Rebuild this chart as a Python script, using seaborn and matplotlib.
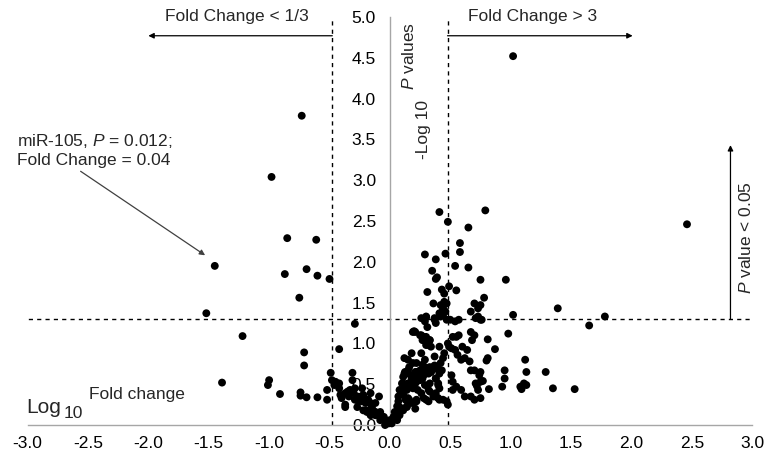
import numpy as np
import pandas as pd
import matplotlib
matplotlib.use("Agg")
import matplotlib.pyplot as plt
import seaborn as sns

# log10 fold change / -log10 P
log10_fold_change = [
    -0.73, -0.98, -0.85, -0.61, -1.45, -0.87, -0.69, -0.60, -0.50, -0.75, -1.52, -1.22,
    -0.71, -0.71, -1.39, -1.00, -1.01, -0.91, -0.74, -0.74, -0.69, -0.60, -0.52,
    -0.29, -0.42, -0.49, -0.31,
    -0.48, -0.45, -0.42, -0.46, -0.52, -0.42, -0.41, -0.37, -0.35, -0.33, -0.30, -0.34,
    -0.37, -0.27, -0.26, -0.23, -0.22, -0.20, -0.19, -0.16, -0.22, -0.19, -0.14, -0.11,
    -0.08, -0.12,
    -0.31, -0.29, -0.23, -0.24, -0.16, -0.18, -0.40, -0.37, -0.29, -0.27, -0.20, -0.15,
    -0.12, -0.09, -0.07, -0.04, -0.01, -0.09, -0.12, -0.16,
    -0.05, -0.08, -0.08, -0.04, -0.03, 0.00, 0.015,
    0.04, 0.08, 0.03, 0.06, 0.06, 0.10, 0.14, 0.21, 0.07, 0.07, 0.11, 0.15, 0.18, 0.22,
    0.08, 0.125, 0.10, 0.15, 0.11, 0.125, 0.15, 0.21, 0.25, 0.29, 0.33, 0.37, 0.40, 0.41,
    0.34, 0.23, 0.28, 0.32, 0.18, 0.21, 0.25, 0.19, 0.23, 0.29, 0.33, 0.26, 0.38, 0.40,
    0.41, 0.33, 0.38, 0.28, 0.32, 0.36, 0.40, 0.44, 0.47, 0.43,
    0.11, 0.14, 0.13, 0.08, 0.07, 0.04,
    0.12, 0.15, 0.12, 0.18, 0.22, 0.26, 0.30, 0.34, 0.27, 0.22, 0.19,
    0.38, 0.40, 0.51, 0.52, 0.55, 0.59, 0.62, 0.52, 0.32, 0.30, 0.22, 0.16, 0.14, 0.11,
    0.38, 0.41, 0.48,
    0.70, 0.74, 0.75, 0.71, 0.67, 0.70, 0.73, 0.75,
    0.19, 0.26, 0.30, 0.33, 0.32, 0.41, 0.49, 0.45, 0.44, 0.37, 0.26, 0.18, 0.29, 0.19,
    0.15, 0.16,
    0.67, 0.70, 0.55, 0.48, 0.51, 0.54, 0.56, 0.59, 0.62, 0.66, 0.64, 0.67,
    0.42, 0.22, 0.27, 0.36, 0.38,
    0.26, 0.30, 0.37, 0.31, 0.50, 0.57, 0.71, 0.75, 0.20, 0.25, 0.27, 0.33, 0.34, 0.52,
    0.57, 0.60, 0.68,
    0.81, 0.98, 0.87, 0.81, 0.80, 1.12, 1.13, 1.29, 0.95, 0.95, 0.75, 0.77, 0.72, 0.82,
    0.93, 1.08, 1.09, 1.11, 1.13, 1.35, 1.53,
    0.79, 0.41, 0.48, 0.65, 0.58, 0.58, 0.29, 0.38, 0.46, 0.54, 0.65, 0.35, 0.39, 0.38,
    0.75, 0.96, 0.31, 0.43, 0.45, 0.49, 0.55, 0.36, 0.45, 0.47, 0.44, 0.70, 0.75, 0.78,
    0.73, 0.67, 0.42, 0.44, 0.46, 0.41, 0.42, 1.39, 1.02, 1.78, 1.65, 0.30, 0.37, 0.29,
    0.44, 0.47, 0.54, 0.38, 0.21, 0.28, 0.32, 0.30, 0.73, 0.76,
    1.02, 2.46,
]
neg_log10_p = [
    3.79, 3.04, 2.29, 2.27, 1.95, 1.85, 1.91, 1.83, 1.79, 1.56, 1.37, 1.09,
    0.89, 0.73, 0.52, 0.55, 0.49, 0.38, 0.40, 0.36, 0.34, 0.34, 0.31,
    1.24, 0.93, 0.64, 0.64,
    0.55, 0.53, 0.51, 0.49, 0.43, 0.45, 0.37, 0.39, 0.41, 0.43, 0.39, 0.35,
    0.25, 0.35, 0.29, 0.29, 0.37, 0.27, 0.31, 0.27, 0.18, 0.16, 0.18, 0.14,
    0.10, 0.12,
    0.55, 0.45, 0.45, 0.35, 0.39, 0.31, 0.33, 0.22, 0.31, 0.22, 0.18, 0.22,
    0.16, 0.12, 0.08, 0.06, 0.02, 0.35, 0.27, 0.12,
    0.10, 0.16, 0.06, 0.00, 0.04, 0.06, 0.02,
    0.16, 0.12, 0.10, 0.06, 0.23, 0.20, 0.23, 0.20, 0.29, 0.35, 0.37, 0.33, 0.27, 0.29,
    0.43, 0.45, 0.51, 0.51, 0.59, 0.65, 0.63, 0.65, 0.67, 0.71, 0.71, 0.73, 0.69, 0.63,
    0.65, 0.59, 0.61, 0.63, 0.57, 0.51, 0.55, 0.45, 0.43, 0.49, 0.51, 0.39, 0.57, 0.51,
    0.45, 0.41, 0.39, 0.33, 0.29, 0.35, 0.33, 0.31, 0.29, 0.67,
    0.51, 0.43, 0.31, 0.22, 0.14, 0.08,
    0.82, 0.67, 0.63, 0.61, 0.65, 0.65, 0.67, 0.65, 0.57, 0.53, 0.49,
    0.57, 0.49, 0.61, 0.53, 0.47, 0.43, 0.35, 0.43, 0.43, 0.31, 0.31, 0.31, 0.22, 0.18,
    0.35, 0.31, 0.25,
    0.67, 0.61, 0.53, 0.51, 0.35, 0.31, 0.43, 0.33,
    1.14, 1.10, 1.08, 1.04, 0.98, 0.96, 0.96, 0.88, 0.82, 0.84, 0.88, 0.88, 0.80, 0.76,
    0.80, 0.71,
    1.14, 1.10, 1.08, 1.00, 0.94, 0.92, 0.86, 0.80, 0.82, 0.78, 0.92, 0.67,
    0.76, 0.76, 0.74, 0.71, 0.69,
    1.31, 1.32, 1.29, 1.20, 1.29, 1.29, 1.31, 1.29, 1.15, 1.10, 1.04, 1.04, 0.96, 1.08,
    1.10, 0.96, 1.04,
    1.05, 1.12, 0.93, 0.82, 0.79, 0.80, 0.65, 0.65, 0.67, 0.57, 0.65, 0.54, 0.48, 0.44,
    0.47, 0.47, 0.44, 0.51, 0.49, 0.45, 0.44,
    2.63, 2.61, 2.49, 2.42, 2.23, 2.12, 2.09, 2.03, 2.10, 1.95, 1.93, 1.89, 1.81, 1.79,
    1.78, 1.78, 1.63, 1.66, 1.61, 1.70, 1.65, 1.49, 1.51, 1.49, 1.43, 1.49, 1.47, 1.56,
    1.43, 1.39, 1.47, 1.41, 1.39, 1.37, 1.33, 1.43, 1.35, 1.33, 1.22, 1.33, 1.31, 1.27,
    1.35, 1.29, 1.27, 1.25, 1.14, 1.08, 1.02, 0.98, 1.33, 1.29,
    4.52, 2.46,
]

fc_cut = np.log10(3)
p_cut = -np.log10(0.05)
x_ticks = [-3.0, -2.5, -2.0, -1.5, -1.0, -0.5, 0.0, 0.5, 1.0, 1.5, 2.0, 2.5, 3.0]
y_ticks = [0.0, 0.5, 1.0, 1.5, 2.0, 2.5, 3.0, 3.5, 4.0, 4.5, 5.0]

df = pd.DataFrame({"fc": log10_fold_change, "p": neg_log10_p})

sns.set_style("white")
plt.rcParams["font.family"] = ["Liberation Sans", "DejaVu Sans"]
plt.rcParams["mathtext.fontset"] = "custom"
plt.rcParams["mathtext.rm"] = "Liberation Sans"
plt.rcParams["mathtext.it"] = "Liberation Sans:italic"
fs = 12.5

fig = plt.figure(figsize=(7.66, 4.59), dpi=100)
ax = fig.add_axes([0.036, 0.074, 0.946, 0.889])

sns.scatterplot(data=df, x="fc", y="p", ax=ax, color="black", s=32,
                edgecolor="none", clip_on=False, zorder=3)

ax.set_xlim(-3, 3)
ax.set_ylim(0, 5)
ax.set_xticks(x_ticks)
ax.set_yticks(y_ticks)
ax.set_xticklabels([f"{t:.1f}" for t in x_ticks])
ax.set_yticklabels([f"{t:.1f}" for t in y_ticks])
ax.set_xlabel("")
ax.set_ylabel("")

for s in ["top", "right"]:
    ax.spines[s].set_visible(False)
ax.spines["left"].set_position(("data", 0))
for s in ["left", "bottom"]:
    ax.spines[s].set_color("#a6a6a6")
    ax.spines[s].set_linewidth(1)
ax.tick_params(axis="both", direction="out", length=5, color="#a6a6a6",
               labelsize=fs, labelcolor="black")
ax.tick_params(axis="y", pad=5)
ax.tick_params(axis="x", pad=3)

dash = dict(color="black", lw=1, ls=(0, (3, 3)), zorder=2)
ax.axvline(-fc_cut, **dash)
ax.axvline(fc_cut, **dash)
ax.axhline(p_cut, xmin=-0.01, **dash)

arrow = dict(arrowstyle="-|>", color="black", lw=0.9, mutation_scale=8,
             shrinkA=0, shrinkB=0)
ax.annotate("", xy=(-2.0, 4.77), xytext=(-fc_cut, 4.77), arrowprops=arrow,
            annotation_clip=False)
ax.annotate("", xy=(2.01, 4.77), xytext=(fc_cut, 4.77), arrowprops=arrow,
            annotation_clip=False)
ax.annotate("", xy=(2.82, 3.43), xytext=(2.82, p_cut), arrowprops=arrow,
            annotation_clip=False)
ax.text(-1.27, 5.0, "Fold Change < 1/3", ha="center", va="center", fontsize=fs)
ax.text(1.18, 5.0, "Fold Change > 3", ha="center", va="center", fontsize=fs)
ax.text(2.95, 2.3, r"$\it{P}$ value < 0.05", rotation=90, ha="center",
        va="center", fontsize=fs)

# axis titles
ax.text(0.28, 3.62, "-Log 10", rotation=90, ha="center", va="center", fontsize=fs)
ax.text(0.155, 4.52, r"$\it{P}$ values", rotation=90, ha="center", va="center",
        fontsize=fs)
ax.text(-3.01, 0.21, "Log", ha="left", va="center", fontsize=15, clip_on=False)
ax.text(-2.70, 0.14, "10", ha="left", va="center", fontsize=fs)
ax.text(-2.49, 0.37, "Fold change", ha="left", va="center", fontsize=fs)

# miR-105 callout
ax.annotate("miR-105, $\\it{P}$ = 0.012;\nFold Change = 0.04",
            xy=(-1.53, 2.08), xytext=(-3.09, 3.37), ha="left", va="center",
            fontsize=fs, linespacing=1.25, annotation_clip=False,
            arrowprops=dict(arrowstyle="-|>", color="#404040", lw=0.9,
                            mutation_scale=8, shrinkA=0, shrinkB=0,
                            relpos=(0.38, 0.0)))

fig.savefig("out.png", dpi=100)
